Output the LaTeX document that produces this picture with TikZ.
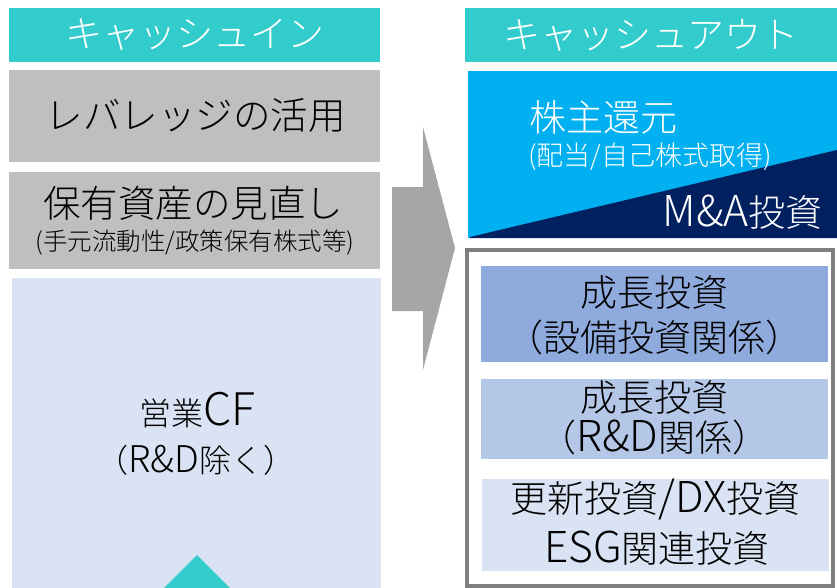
\documentclass[tikz,border=0pt]{standalone}
\usepackage{fontspec}
\IfFontExistsTF{Noto Sans CJK JP Light}
  {\def\mainfam{Noto Sans CJK JP Light}}
  {\def\mainfam{Noto Sans CJK JP}}
\setmainfont{\mainfam}
\newfontfamily\lat{\mainfam}[Scale=1.15]
\definecolor{teal1}{HTML}{33CCCC}
\definecolor{gray1}{HTML}{BFBFBF}
\definecolor{lblue}{HTML}{DAE3F3}
\definecolor{arrowgray}{HTML}{A6A6A6}
\definecolor{sky}{HTML}{00B0F0}
\definecolor{navy}{HTML}{002060}
\definecolor{frame}{HTML}{7F7F7F}
\definecolor{blueA}{HTML}{8FAADC}
\definecolor{blueB}{HTML}{B4C7E7}
\definecolor{blueC}{HTML}{DAE3F3}
\tikzset{
  blk/.style={draw=none, inner sep=0pt, outer sep=0pt},
  big/.style={inner sep=0pt, font=\fontsize{37}{42}\selectfont},
  mid/.style={inner sep=0pt, font=\fontsize{32}{38}\selectfont},
  sml/.style={inner sep=0pt, font=\fontsize{24.5}{28}\selectfont},
  hdr/.style={inner sep=0pt, text=white, font=\fontsize{37}{42}\selectfont},
}
\begin{document}
\begin{tikzpicture}[x=1pt,y=-1pt]
\useasboundingbox (0,0) rectangle (837,588);
\begin{scope}
\clip (0,0) rectangle (837,588);
% headers
\node[blk, fill=teal1, minimum width=371pt, minimum height=54pt] (hin) at (194.5,35) {};
\node[hdr] (hintxt) at (hin.center) {キャッシュイン};
\node[blk, fill=teal1, minimum width=372pt, minimum height=54pt] (hout) at (651,35) {};
\node[hdr] (houttxt) at (hout.center) {キャッシュアウト};
% left boxes
\node[blk, fill=gray1, minimum width=371pt, minimum height=92pt] (lev) at (194.5,116) {};
\node[big, font=\fontsize{37.5}{42}\selectfont] (levtxt) at (195.5,115) {レバレッジの活用};
\node[blk, fill=gray1, minimum width=371pt, minimum height=97pt] (hoyu) at (194.5,220.5) {};
\node[big, font=\fontsize{37.5}{42}\selectfont] (hoyutxt) at (193,203) {保有資産の見直し};
\node[sml] (hoyusub) at (195,243) {(手元流動性/政策保有株式等)};
\node[blk, fill=lblue, minimum width=369pt, minimum height=314pt] (eig) at (196.5,435) {};
\node[mid] (eigtxt1) at (197.5,410) {営業{\lat\fontsize{39}{44}\selectfont CF}};
\node[mid] (eigtxt2) at (196,460) {（{\lat R\&D}除く）};
\fill[teal1] (197,555) -- (232,590) -- (162,590) -- cycle;
% big arrow
\fill[arrowgray] (392,187) -- (423,187) -- (423,127) -- (455,248) -- (423,370) -- (423,311) -- (392,311) -- cycle;
% right: shareholder return
\node[blk, fill=sky, minimum width=369pt, minimum height=167pt] (kab) at (652.5,154.5) {};
\fill[navy] (470,237) -- (837,150) -- (837,238) -- (470,238) -- cycle;
\node[big, text=white, anchor=west] (kabtxt) at (529,117) {株主還元};
\node[sml, text=white, anchor=west, font=\fontsize{27}{30}\selectfont] (kabsub) at (528,157) {(配当/自己株式取得)};
\node[big, text=white, anchor=east] (ma) at (823,212) {{\lat M\&A}投資};
% frame
\node[blk, draw=frame, line width=4pt, minimum width=366pt, minimum height=336pt] (frm) at (650,418) {};
\node[blk, fill=blueA, minimum width=347pt, minimum height=96pt] (g1) at (654.5,314) {};
\node[big] (g1a) at (654.5,292) {成長投資};
\node[big] (g1b) at (654.5,337) {（設備投資関係）};
\node[blk, fill=blueB, minimum width=347pt, minimum height=80pt] (g2) at (654.5,419) {};
\node[big] (g2a) at (654.5,397) {成長投資};
\node[big] (g2b) at (654.5,437) {（{\lat R\&D}関係）};
\node[blk, fill=blueC, minimum width=347pt, minimum height=92pt] (g3) at (655.5,525) {};
\node[big] (g3a) at (655.5,500) {更新投資{\lat /DX}投資};
\node[big] (g3b) at (657,548) {{\lat ESG}関連投資};
\end{scope}
\end{tikzpicture}
\end{document}
